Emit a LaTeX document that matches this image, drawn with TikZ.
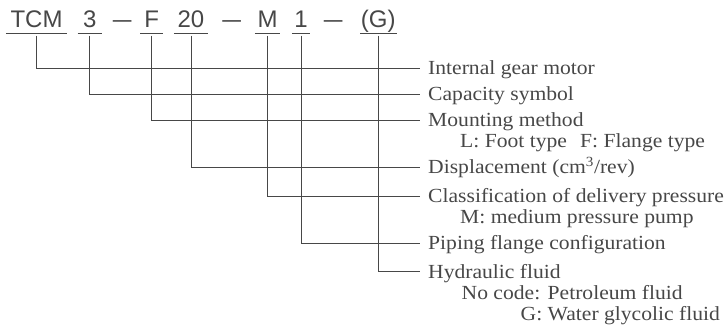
\documentclass[tikz,border=0pt]{standalone}
\usepackage{fontspec}
\setmainfont{Liberation Serif}[FakeStretch=1.08]
\newfontfamily\codefont{Liberation Sans}
\usetikzlibrary{positioning}

\begin{document}
\begin{tikzpicture}[
		x=1pt, y=-1pt,
		ink/.style={black!72},
		rule/.style={ink, line width=0.9pt},
		code/.style={ink, font=\codefont\fontsize{24}{28}\selectfont, anchor=base, inner xsep=0pt, inner ysep=0pt, text depth=6pt},
		label text/.style={ink, font=\fontsize{20}{24}\selectfont, anchor=west, inner xsep=8pt, inner ysep=0pt, text height=13.3pt, text depth=0pt},
		note/.style={ink, font=\fontsize{20}{24}\selectfont, anchor=base west, inner sep=0pt},
]

\useasboundingbox (0, 0) rectangle (728, 325);

\def\codeY{27.3}
\def\labelX{420}

\newcommand*{\codepart}[4]{%
	% #1 = name, #2 = x, #3 = underline width
	\node [code, minimum width=#3] (#1) at (#2, \codeY) {#4};
	\draw [rule] (#1.south west) -- (#1.south east);
}

\newcommand*{\explain}[4]{%
	% #1 = code part, #2 = name, #3 = line y
	\node [label text] (#2) at (\labelX, #3) {#4};
	\draw [rule] ([yshift=-2pt]#1.south) |- (#2.west);
}

%\draw (0, \codeY) -- ++(728, 0);

\codepart{tcm}{36.5}{61pt}{TCM}
\codepart{cap}{89.7}{24pt}{3}
\node [code] (dashA) at (122.3, \codeY) {\scalebox{1.4}[1]{\textendash}};
\codepart{mnt}{151.7}{23pt}{F}
\codepart{disp}{191}{34pt}{20}
\node [code] (dashB) at (231.7, \codeY) {\scalebox{1.4}[1]{\textendash}};
\codepart{pres}{267.5}{25pt}{M}
\codepart{pipe}{301}{18pt}{1}
\node [code] (dashC) at (333.3, \codeY) {\scalebox{1.4}[1]{\textendash}};
\codepart{fluid}{378.3}{36pt}{(G)}

\explain{tcm}{motorL}{68.3}{Internal gear motor}
\explain{cap}{capL}{94.3}{Capacity symbol}
\explain{mnt}{mntL}{120}{Mounting method}
\explain{disp}{dispL}{167}{Displacement (cm\textsuperscript{3}/rev)}
\explain{pres}{presL}{196}{Classification of delivery pressure}
\explain{pipe}{pipeL}{243.3}{Piping flange configuration}
\explain{fluid}{fluidL}{271.7}{Hydraulic fluid}

\node [note] (footN) at (460, 147.6) {L: Foot type};
\node [note] (flangeN) at (580, 147.6) {F: Flange type};
\node [note] (medN) at (460, 223.6) {M: medium pressure pump};
\node [note] (nocodeN) at (461.5, 299) {No code:};
\node [note, right=7pt of nocodeN.base east, anchor=base west] (petrolN) {Petroleum fluid};
\node [note] (waterN) at (petrolN.base west |- 0, 320) {Water glycolic fluid};
\node [note, left=5pt of waterN.base west, anchor=base east] (gN) {G:};

\end{tikzpicture}
\end{document}
